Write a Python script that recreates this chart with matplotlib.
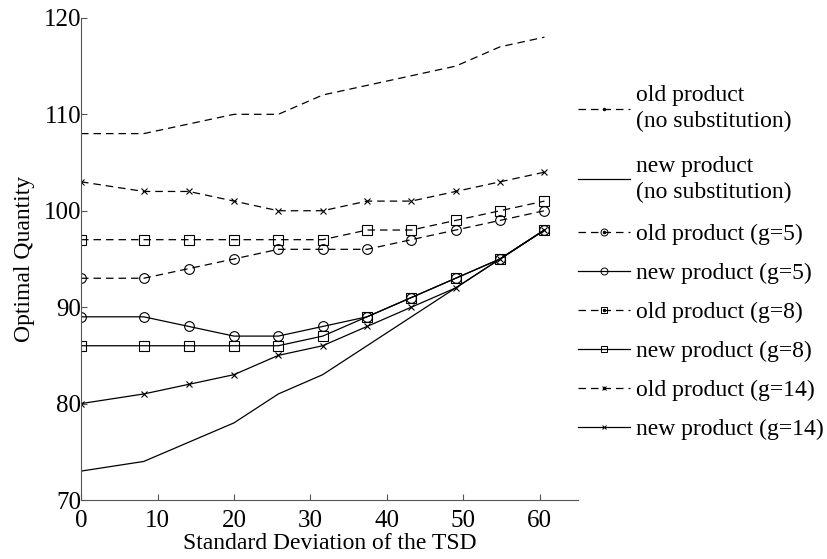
import matplotlib
matplotlib.use("Agg")
import matplotlib.pyplot as plt
from matplotlib.legend_handler import HandlerTuple

plt.rcParams['font.family'] = ['Liberation Serif', 'DejaVu Serif']

# standard deviation of the TSD (x positions of the points)
sd = [0, 8.2, 14.1, 20.0, 25.8, 31.6, 37.4, 43.2, 49.0, 54.8, 60.6]

old_nosub = [108, 108, 109, 110, 110, 112, 113, 114, 115, 117, 118]
new_nosub = [73, 74, 76, 78, 81, 83, 86, 89, 92, 95, 98]
old_g5 = [93, 93, 94, 95, 96, 96, 96, 97, 98, 99, 100]
new_g5 = [89, 89, 88, 87, 87, 88, 89, 91, 93, 95, 98]
old_g8 = [97, 97, 97, 97, 97, 97, 98, 98, 99, 100, 101]
new_g8 = [86, 86, 86, 86, 86, 87, 89, 91, 93, 95, 98]
old_g14 = [103, 102, 102, 101, 100, 100, 101, 101, 102, 103, 104]
new_g14 = [80, 81, 82, 83, 85, 86, 88, 90, 92, 95, 98]

labels = ["old product\n(no substitution)", "new product\n(no substitution)",
          "old product (g=5)", "new product (g=5)",
          "old product (g=8)", "new product (g=8)",
          "old product (g=14)", "new product (g=14)"]

fig = plt.figure(figsize=(8.27, 5.59), dpi=100)
ax = fig.add_axes([0.098, 0.1055, 0.601, 0.8625])

lw = 0.9
dash = (0, (6, 4))
kw = dict(color="black", lw=lw, mfc="none", mec="black", mew=0.8)

ax.plot(sd, old_nosub, ls=dash, **kw)
ax.plot(sd, new_nosub, ls="-", **kw)
ax.plot(sd, old_g5, ls=dash, marker="o", ms=7, **kw)
ax.plot(sd, new_g5, ls="-", marker="o", ms=7, **kw)
ax.plot(sd, old_g8, ls=dash, marker="s", ms=6.5, **kw)
ax.plot(sd, new_g8, ls="-", marker="s", ms=6.5, **kw)
ax.plot(sd, old_g14, ls=dash, marker="x", ms=4, **kw)
ax.plot(sd, new_g14, ls="-", marker="x", ms=4, **kw)

# legend proxies (smaller markers, dot in the middle for the "old" series)
def proxy(ls, marker=None, ms=5):
    return plt.Line2D([], [], color="black", lw=lw, ls=ls, marker=marker,
                      ms=ms, mfc="none", mec="black", mew=0.7)

def dot():
    return plt.Line2D([], [], ls="none", marker=".", ms=3, color="black")

handles = [(proxy(dash), dot()), proxy("-"),
           (proxy(dash, "o", 5), dot()), proxy("-", "o", 5),
           (proxy(dash, "s", 4.5), dot()), proxy("-", "s", 4.5),
           (proxy(dash, "x", 3), dot()), proxy("-", "x", 3)]

leg_kw = dict(handler_map={tuple: HandlerTuple(ndivide=1)}, loc="upper left",
              frameon=False, fontsize=17, handlelength=2.2, handletextpad=0.26,
              borderaxespad=0, borderpad=0)

# two-line entries and one-line entries are spaced differently
leg1 = ax.legend(handles[:2], labels[:2], bbox_to_anchor=(1.0, 0.86),
                 labelspacing=1.0, **leg_kw)
for t in leg1.get_texts():
    t.set_linespacing(1.3)
ax.add_artist(leg1)
ax.legend(handles[2:], labels[2:], bbox_to_anchor=(1.0, 0.573),
          labelspacing=0.74, **leg_kw)

ax.set_xlim(0, 65)
ax.set_ylim(70, 120)
ax.set_xticks(range(0, 61, 10))
ax.set_yticks(range(70, 121, 10))
ax.spines["top"].set_visible(False)
ax.spines["right"].set_visible(False)
ax.spines["left"].set_color("#555555")
ax.spines["bottom"].set_color("#555555")
ax.tick_params(direction="in", length=4, labelsize=18, color="#555555")
ax.tick_params(axis="y", pad=0)
ax.tick_params(axis="x", pad=7)
ax.set_xlabel("Standard Deviation of the TSD", fontsize=17, labelpad=1)
ax.set_ylabel("Optimal Quantity", fontsize=17, labelpad=6)

fig.savefig("out.png", dpi=100)
